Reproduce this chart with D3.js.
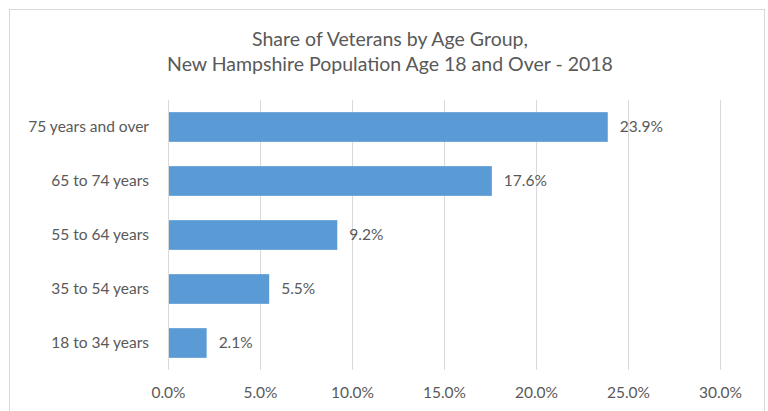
<!DOCTYPE html>
<html>
<head>
<meta charset="utf-8">
<script src="https://cdnjs.cloudflare.com/ajax/libs/d3/7.8.5/d3.min.js"></script>
<style>
  body { margin: 0; background: #fff; }
  text { font-family: Lato, "Open Sans", sans-serif; fill: #595959; }
</style>
</head>
<body>
<div id="chart"></div>
<script>
// data
const ageGroups = ["75 years and over", "65 to 74 years", "55 to 64 years", "35 to 54 years", "18 to 34 years"];
const shares = [23.9, 17.6, 9.2, 5.5, 2.1];
const tickValues = [0, 5, 10, 15, 20, 25, 30];
const titleLines = ["Share of Veterans by Age Group,", "New Hampshire Population Age 18 and Over - 2018"];

const w = 768, h = 411;
const margin = {top: 100, right: 48, bottom: 41, left: 168};

const svg = d3.select("#chart").append("svg")
  .attr("width", w)
  .attr("height", h);

// chart border
svg.append("rect")
  .attr("x", 9.5).attr("y", 9.5)
  .attr("width", 755).attr("height", 420)
  .attr("fill", "none")
  .attr("stroke", "#d9d9d9");

const x = d3.scaleLinear().domain([0, 30]).range([margin.left, w - margin.right]);
const y = d3.scaleBand().domain(ageGroups).range([margin.top, h - margin.bottom]).paddingInner(0.45).paddingOuter(0.225);

// gridlines
svg.append("g").selectAll("line")
  .data(tickValues)
  .enter().append("line")
    .attr("x1", d => x(d) + 0.5).attr("x2", d => x(d) + 0.5)
    .attr("y1", margin.top).attr("y2", h - margin.bottom)
    .attr("stroke", "#d9d9d9")
    .attr("stroke-width", 1);

// x axis labels
const xAxis = d3.axisBottom(x)
  .tickValues(tickValues)
  .tickSize(0)
  .tickPadding(17)
  .tickFormat(d => d.toFixed(1) + "%");
const gx = svg.append("g")
  .attr("transform", "translate(0," + (h - margin.bottom) + ")")
  .call(xAxis);
gx.select(".domain").remove();
gx.selectAll("text").style("font-size", "15.5px").attr("fill", "#595959");

// y axis labels
const yAxis = d3.axisLeft(y).tickSize(0).tickPadding(19);
const gy = svg.append("g")
  .attr("transform", "translate(" + margin.left + ",0)")
  .call(yAxis);
gy.select(".domain").remove();
gy.selectAll("text").style("font-size", "15.5px").attr("fill", "#595959");

// bars
svg.append("g").selectAll("rect")
  .data(shares)
  .enter().append("rect")
    .attr("x", x(0) + 1)
    .attr("y", (d, i) => y(ageGroups[i]))
    .attr("width", d => x(d) - x(0) - 1)
    .attr("height", y.bandwidth())
    .attr("fill", "#5b9bd5");

// value labels
svg.append("g").selectAll("text")
  .data(shares)
  .enter().append("text")
    .attr("x", d => x(d) + 12)
    .attr("y", (d, i) => y(ageGroups[i]) + y.bandwidth() / 2)
    .attr("dy", "0.35em")
    .style("font-size", "15.5px")
    .text(d => d.toFixed(1) + "%");

// title
svg.append("g").selectAll("text")
  .data(titleLines)
  .enter().append("text")
    .attr("x", 390)
    .attr("y", (d, i) => 46 + i * 25)
    .attr("text-anchor", "middle")
    .style("font-size", "19.5px")
    .text(d => d);
</script>
</body>
</html>
